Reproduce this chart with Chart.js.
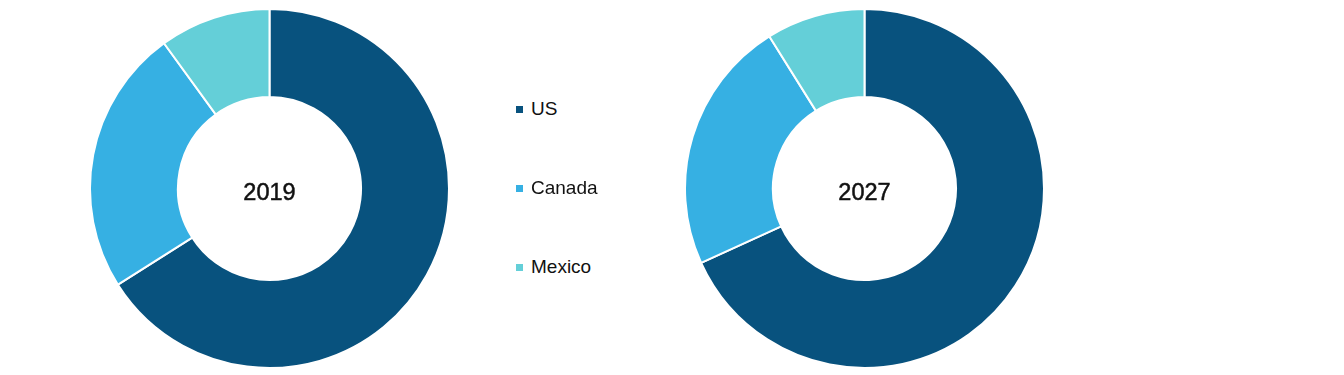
<!DOCTYPE html>
<html lang="en">
<head>
    <meta charset="UTF-8">
    <title>US, Canada, Mexico share 2019 vs 2027</title>
    <script src="https://cdn.jsdelivr.net/npm/chart.js@4.4.1/dist/chart.umd.min.js"></script>
    <style>
        body {
            margin: 0;
            background: #fff;
            font-family: 'Liberation Sans', Arial, sans-serif;
        }
        .wrap {
            position: relative;
            width: 1344px;
            height: 375px;
        }
        .pie {
            position: absolute;
            top: 8px;
            width: 361px;
            height: 361px;
        }
        .center-label {
            position: absolute;
            top: 50%;
            left: 50%;
            transform: translate(-50%, -50%);
            margin-top: 3px;
            font-size: 23.5px;
            -webkit-text-stroke: 0.5px #111;
            color: #111;
            pointer-events: none;
        }
        .legend {
            position: absolute;
            left: 516px;
            top: 0;
        }
        .legend-item {
            position: absolute;
            left: 0;
            display: flex;
            align-items: center;
            white-space: nowrap;
            font-size: 19px;
            color: #111;
            transform: translateY(-50%);
        }
        .legend-item span.box {
            display: inline-block;
            width: 7px;
            height: 7px;
            margin-right: 8px;
        }
    </style>
</head>
<body>
    <div class="wrap">
        <div class="pie" style="left: 89px;">
            <canvas id="chart2019"></canvas>
            <div class="center-label" id="label2019"></div>
        </div>
        <div class="pie" style="left: 684px;">
            <canvas id="chart2027"></canvas>
            <div class="center-label" id="label2027"></div>
        </div>
        <div class="legend" id="legend"></div>
    </div>

    <script>
        // datos (% aprox.)
        const countries = ['US', 'Canada', 'Mexico'];
        const years = ['2019', '2027'];
        const share2019 = [66, 24, 10];
        const share2027 = [68.2, 22.9, 8.9];
        const colors = ['#08527e', '#36b0e3', '#64cfd8'];

        function makeDonut(id, values) {
            new Chart(document.getElementById(id), {
                type: 'doughnut',
                data: {
                    labels: countries,
                    datasets: [{
                        data: values,
                        backgroundColor: colors,
                        borderColor: '#ffffff',
                        borderWidth: 2,
                        hoverOffset: 0
                    }]
                },
                options: {
                    responsive: true,
                    maintainAspectRatio: false,
                    animation: false,
                    cutout: '51%',
                    layout: { padding: 0 },
                    plugins: {
                        legend: { display: false },
                        tooltip: { enabled: false }
                    }
                }
            });
        }

        makeDonut('chart2019', share2019);
        makeDonut('chart2027', share2027);
        document.getElementById('label2019').textContent = years[0];
        document.getElementById('label2027').textContent = years[1];

        // leyenda en HTML
        const legendY = [109, 188, 267];
        const legend = document.getElementById('legend');
        countries.forEach((c, i) => {
            const item = document.createElement('div');
            item.className = 'legend-item';
            item.style.top = legendY[i] + 'px';
            item.innerHTML = '<span class="box" style="background:' + colors[i] + '"></span>' + c;
            legend.appendChild(item);
        });
    </script>
</body>
</html>
